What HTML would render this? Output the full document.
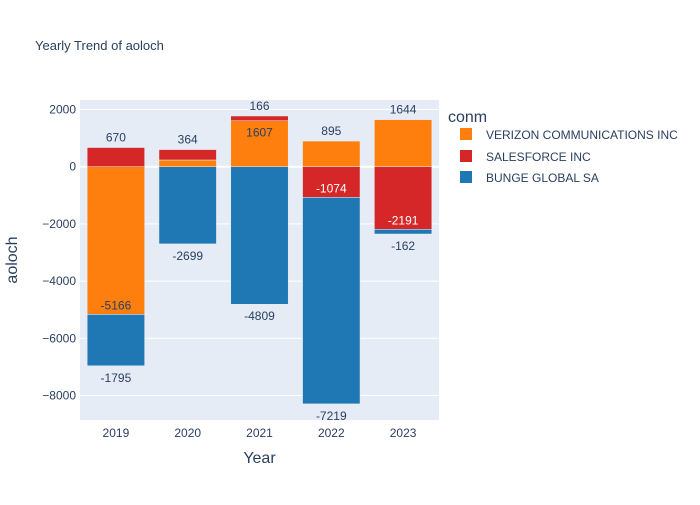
<!DOCTYPE html>
<html><head><meta charset="utf-8"><style>
html,body{margin:0;padding:0;background:#fff;}
svg text{font-family:"Liberation Sans","DejaVu Sans",sans-serif;}
</style></head><body>
<svg id="chart" width="700" height="500" xmlns="http://www.w3.org/2000/svg">
<rect x="0" y="0" width="700" height="500" fill="#fff"/>
<text x="35" y="50" font-size="13" fill="#2a3f5f">Yearly Trend of aoloch</text>
<rect x="80" y="100" width="359" height="320" fill="#e5ecf6"/>
<g id="grid"></g>
<g id="bars"></g>
<g id="labels"></g>
<g id="ticks"></g>
<text transform="translate(17,260) rotate(-90)" text-anchor="middle" font-size="16" fill="#2a3f5f">aoloch</text>
<text x="259.5" y="463" text-anchor="middle" font-size="16" fill="#2a3f5f">Year</text>
<g>
<text x="448" y="122" font-size="16" fill="#2a3f5f">conm</text>
<g><rect x="460" y="128" width="12" height="12" fill="#ff7f0e"/><text x="486" y="139" font-size="12" fill="#2a3f5f">VERIZON COMMUNICATIONS INC</text></g>
<g><rect x="460" y="150" width="12" height="12" fill="#d62728"/><text x="486" y="161" font-size="12" fill="#2a3f5f">SALESFORCE INC</text></g>
<g><rect x="460" y="171" width="12" height="12" fill="#1f77b4"/><text x="486" y="182" font-size="12" fill="#2a3f5f">BUNGE GLOBAL SA</text></g>
</g>
</svg>
<script>
const years = ["2019","2020","2021","2022","2023"];
const verizon = [-5166, 234, 1607, 895, 1644];
const salesforce = [670, 364, 166, -1074, -2191];
const bunge = [-1795, -2699, -4809, -7219, -162];
const yTicks = [2000, 0, -2000, -4000, -6000, -8000];
const yTickLabels = ["2000","0","−2000","−4000","−6000","−8000"];

const NS = "http://www.w3.org/2000/svg";
const X0 = 80, W = 359, Y_ZERO = 166.7, PX_PER = 57.2/2000;
const bw = W / years.length;
function xC(i){ return X0 + bw*(i+0.5); }
function yS(v){ return Y_ZERO - v*PX_PER; }
function mk(tag, attrs, parent){ const e=document.createElementNS(NS,tag); for(const k in attrs) e.setAttribute(k,attrs[k]); parent.appendChild(e); return e; }

const grid = document.getElementById('grid');
const ticks = document.getElementById('ticks');
yTicks.forEach((t,i)=>{
  const gl = mk('line',{x1:X0,x2:X0+W,y1:yS(t),y2:yS(t),stroke:'#fff','stroke-width':t===0?2:1},grid);
  
  
  const tl = mk('text',{x:X0-4,y:yS(t)+4,'text-anchor':'end','font-size':12,fill:'#2a3f5f'},ticks);
  tl.textContent = yTickLabels[i];
  
  
});
years.forEach((yr,i)=>{
  const tl = mk('text',{x:xC(i),y:437,'text-anchor':'middle','font-size':12,fill:'#2a3f5f'},ticks);
  tl.textContent = yr;
  
  
});

const series = [
  {name:'verizon', vals:verizon, color:'#ff7f0e', inText:'#2a3f5f'},
  {name:'salesforce', vals:salesforce, color:'#d62728', inText:'#fff'},
  {name:'bunge', vals:bunge, color:'#1f77b4', inText:'#fff'}
];
const bars = document.getElementById('bars');
const labels = document.getElementById('labels');
years.forEach((yr,i)=>{
  let pos=0, neg=0;
  const segs=[];
  series.forEach(s=>{
    const v=s.vals[i];
    let a,b;
    if(v>=0){a=pos;b=pos+v;pos=b;} else {a=neg;b=neg+v;neg=b;}
    segs.push({s,v,a,b});
  });
  segs.forEach((g,k)=>{
    const y1=yS(Math.max(g.a,g.b)), y2=yS(Math.min(g.a,g.b));
    const r = mk('rect',{x:xC(i)-bw*0.4,y:y1,width:bw*0.8,height:Math.max(0,y2-y1),fill:g.s.color,stroke:'#e5ecf6','stroke-width':0.5},bars);
    
    
    // outermost in its direction?
    const outer = !segs.slice(k+1).some(o=> (o.v>=0)===(g.v>=0) && o.v!==0);
    let ty, fill;
    if(outer){
      ty = g.v>=0 ? yS(g.b)-6 : yS(g.b)+16; fill='#2a3f5f';
    } else {
      if(y2-y1<16) return;
      ty = g.v>=0 ? yS(g.b)+16 : yS(g.b)-5; fill=g.s.inText;
    }
    const t = mk('text',{x:xC(i),y:ty,'text-anchor':'middle','font-size':12,fill:fill},labels);
    t.textContent = String(g.v);
    
    
  });
});
</script>
</body></html>
